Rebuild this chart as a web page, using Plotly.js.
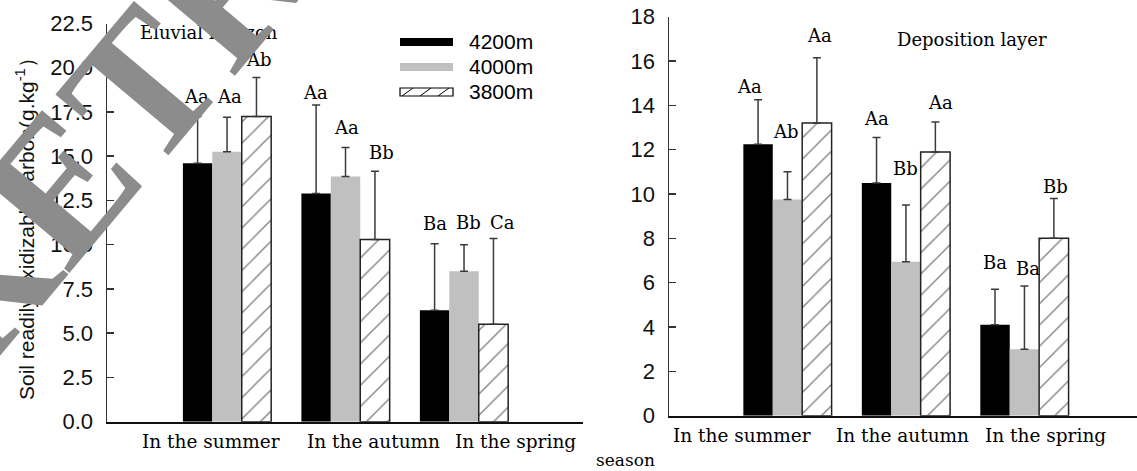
<!DOCTYPE html>
<html>
<head>
<meta charset="utf-8">
<script src="https://cdn.plot.ly/plotly-3.0.1.min.js"></script>
<style>html,body{margin:0;padding:0;background:#fff;}#chart{width:1137px;height:471px;}</style>
</head>
<body>
<div id="chart"></div>
<script>
// ---------- DATA ----------
const seasons = ['In the summer', 'In the autumn', 'In the spring'];
const elevations = ['4200m', '4000m', '3800m'];

// Eluvial horizon (left panel)
const eluv4200 = [14.6, 12.9, 6.3];
const eluv4000 = [15.25, 13.85, 8.5];
const eluv3800 = [17.25, 10.3, 5.5];
const eluvErr4200 = [2.65, 5.0, 3.75];
const eluvErr4000 = [1.95, 1.65, 1.5];
const eluvErr3800 = [2.2, 3.85, 4.85];
const eluvSig4200 = ['Aa', 'Aa', 'Ba'];
const eluvSig4000 = ['Aa', 'Aa', 'Bb'];
const eluvSig3800 = ['Ab', 'Bb', 'Ca'];

// Deposition layer (right panel)
const dep4200 = [12.25, 10.5, 4.1];
const dep4000 = [9.75, 6.95, 3.0];
const dep3800 = [13.2, 11.9, 8.0];
const depErr4200 = [2.0, 2.05, 1.6];
const depErr4000 = [1.25, 2.55, 2.85];
const depErr3800 = [2.95, 1.35, 1.8];
const depSig4200 = ['Aa', 'Aa', 'Ba'];
const depSig4000 = ['Ab', 'Bb', 'Ba'];
const depSig3800 = ['Aa', 'Aa', 'Bb'];

const yTitle = 'Soil readily oxidizable carbon(g.kg<sup>-1</sup>）';
const panelTitles = ['Eluvial horizon', 'Deposition layer'];
const xTitle = 'season';
const watermark = 'RETRACTED';

// ---------- LAYOUT HELPERS ----------
const W = 1137, H = 471;
const px = v => v / W;
const py = v => 1 - v / H;
const BARGAP = 0.255;
const barW = (1 - BARGAP) / 3;

const colors = ['#000000', '#c0c0c0', '#ffffff'];
const serif = 'DejaVu Serif, serif';
const sans = 'Liberation Sans, Arial, sans-serif';

function barTrace(y, err, idx, xa, ya) {
  const t = {
    type: 'bar', x: seasons, y: y, name: elevations[idx],
    xaxis: xa, yaxis: ya, showlegend: false,
    marker: {color: colors[idx], line: {width: 0}},
    error_y: {type: 'data', array: err, arrayminus: err.map(() => 0), symmetric: false,
              color: '#3a3a3a', thickness: 1.5, width: 4}
  };
  if (idx === 2) {
    t.marker.pattern = {shape: '/', fgcolor: '#000', bgcolor: '#fff', size: 15, solidity: 0.09, fillmode: 'overlay'};
    t.marker.line = {width: 1.5, color: '#222'};
  }
  return t;
}

const data = [
  barTrace(eluv4200, eluvErr4200, 0, 'x', 'y'),
  barTrace(eluv4000, eluvErr4000, 1, 'x', 'y'),
  barTrace(eluv3800, eluvErr3800, 2, 'x', 'y'),
  barTrace(dep4200, depErr4200, 0, 'x2', 'y2'),
  barTrace(dep4000, depErr4000, 1, 'x2', 'y2'),
  barTrace(dep3800, depErr3800, 2, 'x2', 'y2')
];

// significance-letter label offsets (pixels)
const leftYShift = [[20, 12, 20], [21, 20, 22], [18, 19, 16]];
const leftXShift = [[-1, -1, 0], [2, 1, 4], [3, 7, 9]];
const rightYShift = [[13, 19, 27], [40, 37, 18], [22, 19, 12]];
const rightXShift = [[-9, 0, 0], [-1, 0, 4], [3, 5, 2]];
const leftTickShift = [-16, 28, 51];
const rightTickShift = [-45, -3, 21];

const annotations = [];
function addSig(vals, errs, sigs, idx, xa, ya, ys, xs) {
  vals.forEach((v, j) => {
    annotations.push({
      xref: xa, yref: ya, x: j + (idx - 1) * barW, y: v + errs[j],
      text: sigs[j], showarrow: false, xanchor: 'center', yanchor: 'middle',
      yshift: ys[idx][j], xshift: xs[idx][j],
      font: {family: serif, size: 18, color: '#000'}
    });
  });
}
addSig(eluv4200, eluvErr4200, eluvSig4200, 0, 'x', 'y', leftYShift, leftXShift);
addSig(eluv4000, eluvErr4000, eluvSig4000, 1, 'x', 'y', leftYShift, leftXShift);
addSig(eluv3800, eluvErr3800, eluvSig3800, 2, 'x', 'y', leftYShift, leftXShift);
addSig(dep4200, depErr4200, depSig4200, 0, 'x2', 'y2', rightYShift, rightXShift);
addSig(dep4000, depErr4000, depSig4000, 1, 'x2', 'y2', rightYShift, rightXShift);
addSig(dep3800, depErr3800, depSig3800, 2, 'x2', 'y2', rightYShift, rightXShift);

// category labels
seasons.forEach((s, j) => {
  annotations.push({xref: 'x', yref: 'y', x: j, y: 0, text: s, showarrow: false,
    xanchor: 'center', yanchor: 'middle', yshift: -20, xshift: leftTickShift[j],
    font: {family: serif, size: 18.5, color: '#000'}});
  annotations.push({xref: 'x2', yref: 'y2', x: j, y: 0, text: s, showarrow: false,
    xanchor: 'center', yanchor: 'middle', yshift: -20, xshift: rightTickShift[j],
    font: {family: serif, size: 18.5, color: '#000'}});
});

// titles
annotations.push({xref: 'paper', yref: 'paper', x: px(138), y: py(33), text: panelTitles[0],
  showarrow: false, xanchor: 'left', yanchor: 'middle', font: {family: serif, size: 18, color: '#000'}});
annotations.push({xref: 'paper', yref: 'paper', x: px(895), y: py(40), text: panelTitles[1],
  showarrow: false, xanchor: 'left', yanchor: 'middle', font: {family: serif, size: 18, color: '#000'}});
annotations.push({xref: 'paper', yref: 'paper', x: px(625), y: py(460), text: xTitle,
  showarrow: false, xanchor: 'center', yanchor: 'middle', font: {family: serif, size: 17, color: '#000'}});
annotations.push({xref: 'paper', yref: 'paper', x: px(25), y: py(224), text: yTitle, textangle: -90,
  showarrow: false, xanchor: 'center', yanchor: 'middle', font: {family: sans, size: 21, color: '#111'}});

// legend (drawn manually)
const legendY = [42, 67, 92];
const shapes = [];
elevations.forEach((e, i) => {
  shapes.push({type: 'rect', xref: 'paper', yref: 'paper', x0: px(400), x1: px(453),
    y0: py(legendY[i] - 4), y1: py(legendY[i] + 4),
    fillcolor: colors[i], line: {width: i === 2 ? 1.2 : 0, color: '#000'}});
  annotations.push({xref: 'paper', yref: 'paper', x: px(467), y: py(legendY[i]), text: e,
    showarrow: false, xanchor: 'left', yanchor: 'middle', font: {family: sans, size: 21, color: '#000'}});
});
[402, 420, 438].forEach(x0 => {
  shapes.push({type: 'line', xref: 'paper', yref: 'paper', x0: px(x0), x1: px(x0 + 11),
    y0: py(legendY[2] + 4), y1: py(legendY[2] - 4), line: {width: 1, color: '#000'}});
});

// watermark
annotations.push({xref: 'paper', yref: 'paper', x: px(316), y: py(-122), text: '<b>' + watermark + '</b>',
  textangle: -50, showarrow: false, xanchor: 'center', yanchor: 'middle',
  font: {family: 'Liberation Serif, serif', size: 192, color: '#8c8c8c'}});

const yTickFont = {family: sans, size: 22, color: '#111'};
const layout = {
  width: W, height: H, margin: {l: 0, r: 0, t: 0, b: 0},
  paper_bgcolor: '#fff', plot_bgcolor: 'rgba(0,0,0,0)',
  barmode: 'group', bargap: BARGAP, bargroupgap: 0, showlegend: false,
  xaxis: {domain: [px(107), px(583)], type: 'category', range: [-1.013, 3.004],
    showline: true, linecolor: '#111', linewidth: 2, ticks: '', showticklabels: false,
    showgrid: false, zeroline: false, fixedrange: true, anchor: 'y', automargin: false},
  yaxis: {domain: [py(421.7), py(23.5)], range: [0, 22.5], tickvals: [0, 2.5, 5, 7.5, 10, 12.5, 15, 17.5, 20, 22.5],
    ticktext: ['0.0', '2.5', '5.0', '7.5', '10.0', '12.5', '15.0', '17.5', '20.0', '22.5'],
    showline: true, linecolor: '#333', linewidth: 1.5, ticks: 'inside', ticklen: 7, tickwidth: 1.5, tickcolor: '#333',
    tickfont: yTickFont, showgrid: false, zeroline: false, anchor: 'x', automargin: false, ticklabelstandoff: 8},
  xaxis2: {domain: [px(669), 1], type: 'category', range: [-1.0, 2.95],
    showline: true, linecolor: '#111', linewidth: 2, ticks: '', showticklabels: false,
    showgrid: false, zeroline: false, anchor: 'y2', automargin: false},
  yaxis2: {domain: [py(415.7), py(16.7)], range: [0, 18], tickvals: [0, 2, 4, 6, 8, 10, 12, 14, 16, 18],
    showline: true, linecolor: '#333', linewidth: 1.5, ticks: 'inside', ticklen: 7, tickwidth: 1.5, tickcolor: '#333',
    tickfont: yTickFont, showgrid: false, zeroline: false, anchor: 'x2', automargin: false, ticklabelstandoff: 8},
  annotations: annotations,
  shapes: shapes
};

Plotly.newPlot('chart', data, layout, {staticPlot: true, displayModeBar: false});
</script>
</body>
</html>
